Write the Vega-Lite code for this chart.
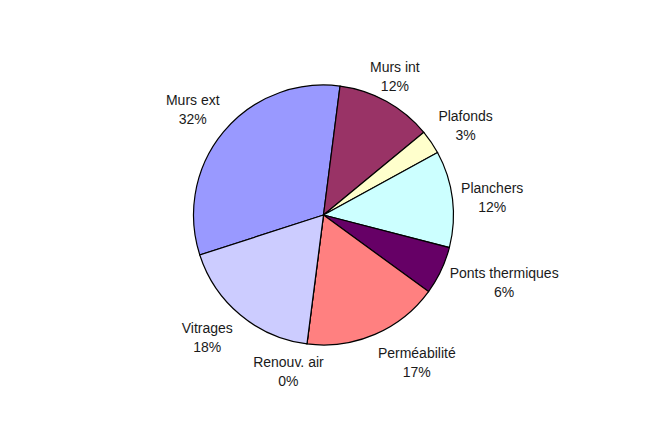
{
  "$schema": "https://vega.github.io/schema/vega-lite/v6.json",
  "width": 647,
  "height": 430,
  "autosize": {"type": "none"},
  "padding": {"left": 0, "top": 0, "right": 10, "bottom": 2},
  "background": "white",
  "config": {"view": {"stroke": null}},
  "data": {"values": [
    {"poste": "Murs ext", "part": 32},
    {"poste": "Murs int", "part": 12},
    {"poste": "Plafonds", "part": 3},
    {"poste": "Planchers", "part": 12},
    {"poste": "Ponts thermiques", "part": 6},
    {"poste": "Perméabilité", "part": 17},
    {"poste": "Renouv. air", "part": 0},
    {"poste": "Vitrages", "part": 18}
  ]},
  "transform": [
    {"window": [{"op": "row_number", "as": "rang"}]},
    {"calculate": "datum.poste + '\\n' + datum.part + '%'", "as": "etiquette"}
  ],
  "encoding": {
    "theta": {"field": "part", "type": "quantitative", "stack": true, "scale": {"range": [-1.8832, 4.4]}},
    "order": {"field": "rang", "type": "quantitative"},
    "detail": {"field": "poste", "type": "nominal"}
  },
  "layer": [
    {
      "mark": {"type": "arc", "radius": 130, "stroke": "black", "strokeWidth": 1.2},
      "encoding": {
        "color": {
          "field": "poste", "type": "nominal", "legend": null,
          "scale": {
            "domain": ["Murs ext", "Murs int", "Plafonds", "Planchers", "Ponts thermiques", "Perméabilité", "Renouv. air", "Vitrages"],
            "range": ["#9999FF", "#993366", "#FFFFCC", "#CCFFFF", "#660066", "#FF8080", "#0066CC", "#CCCCFF"]
          }
        }
      }
    },
    {
      "mark": {"type": "text", "radius": 166, "dx": -3, "dy": -8, "font": "Liberation Sans", "fontSize": 14, "lineHeight": 19, "lineBreak": "\n", "align": "center", "baseline": "middle", "color": "#1a1a1a"},
      "encoding": {"text": {"condition": {"test": "datum.poste === 'Murs ext'", "field": "etiquette"}, "value": ""}}
    },
    {
      "mark": {"type": "text", "radius": 158, "dx": -5, "dy": -9, "font": "Liberation Sans", "fontSize": 14, "lineHeight": 19, "lineBreak": "\n", "align": "center", "baseline": "middle", "color": "#1a1a1a"},
      "encoding": {"text": {"condition": {"test": "datum.poste === 'Murs int'", "field": "etiquette"}, "value": ""}}
    },
    {
      "mark": {"type": "text", "radius": 168, "dx": 3, "dy": -4, "font": "Liberation Sans", "fontSize": 14, "lineHeight": 19, "lineBreak": "\n", "align": "center", "baseline": "middle", "color": "#1a1a1a"},
      "encoding": {"text": {"condition": {"test": "datum.poste === 'Plafonds'", "field": "etiquette"}, "value": ""}}
    },
    {
      "mark": {"type": "text", "radius": 168, "dx": 2, "dy": -5, "font": "Liberation Sans", "fontSize": 14, "lineHeight": 19, "lineBreak": "\n", "align": "center", "baseline": "middle", "color": "#1a1a1a"},
      "encoding": {"text": {"condition": {"test": "datum.poste === 'Planchers'", "field": "etiquette"}, "value": ""}}
    },
    {
      "mark": {"type": "text", "radius": 160, "dx": 36, "dy": -9, "font": "Liberation Sans", "fontSize": 14, "lineHeight": 19, "lineBreak": "\n", "align": "center", "baseline": "middle", "color": "#1a1a1a"},
      "encoding": {"text": {"condition": {"test": "datum.poste === 'Ponts thermiques'", "field": "etiquette"}, "value": ""}}
    },
    {
      "mark": {"type": "text", "radius": 160, "dx": 30, "dy": -8, "font": "Liberation Sans", "fontSize": 14, "lineHeight": 19, "lineBreak": "\n", "align": "center", "baseline": "middle", "color": "#1a1a1a"},
      "encoding": {"text": {"condition": {"test": "datum.poste === 'Perméabilité'", "field": "etiquette"}, "value": ""}}
    },
    {
      "mark": {"type": "text", "radius": 158, "dx": -15, "dy": -9, "font": "Liberation Sans", "fontSize": 14, "lineHeight": 19, "lineBreak": "\n", "align": "center", "baseline": "middle", "color": "#1a1a1a"},
      "encoding": {"text": {"condition": {"test": "datum.poste === 'Renouv. air'", "field": "etiquette"}, "value": ""}}
    },
    {
      "mark": {"type": "text", "radius": 160, "dx": -14, "dy": -9, "font": "Liberation Sans", "fontSize": 14, "lineHeight": 19, "lineBreak": "\n", "align": "center", "baseline": "middle", "color": "#1a1a1a"},
      "encoding": {"text": {"condition": {"test": "datum.poste === 'Vitrages'", "field": "etiquette"}, "value": ""}}
    }
  ]
}
